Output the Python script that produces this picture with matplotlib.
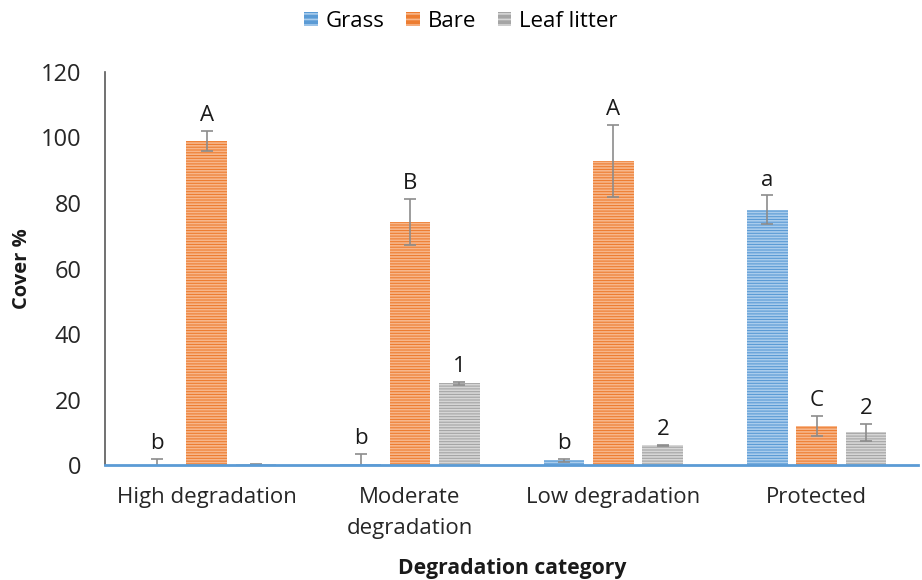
import numpy as np
import matplotlib.pyplot as plt
from matplotlib.patches import Patch

plt.rcParams['font.family'] = ['Open Sans', 'DejaVu Sans']
plt.rcParams['hatch.linewidth'] = 1.2

categories = ['High degradation', 'Moderate\ndegradation', 'Low degradation', 'Protected']
series = ['Grass', 'Bare', 'Leaf litter']

grass = [0.0, 0.5, 1.5, 78.0]
bare = [99.0, 74.2, 92.8, 11.9]
leaf = [0.3, 25.0, 6.0, 10.0]

grass_err = [1.8, 3.0, 0.5, 4.3]
bare_err = [3.0, 7.0, 11.0, 3.0]
leaf_err = [0.2, 0.5, 0.3, 2.5]

grass_lbl = ['b', 'b', 'b', 'a']
bare_lbl = ['A', 'B', 'A', 'C']
leaf_lbl = ['', '1', '2', '2']

face = ['#5B9BD5', '#ED7D31', '#A5A5A5']
hatchc = ['#A9CCEC', '#F7B68A', '#D6D6D6']

fig = plt.figure(figsize=(9.22, 5.8), dpi=100)
ax = fig.add_axes([0.114, 0.198, 0.882, 0.678])

x = np.arange(len(categories))
width = 0.2
step = 0.243
data = [grass, bare, leaf]
errs = [grass_err, bare_err, leaf_err]
lbls = [grass_lbl, bare_lbl, leaf_lbl]

for i in range(3):
    pos = x + (i - 1) * step
    ax.bar(pos, data[i], width, color=face[i], edgecolor=hatchc[i], linewidth=0,
           hatch='------', zorder=2)
    ax.errorbar(pos, data[i], yerr=errs[i], fmt='none', ecolor='#8C8C8C',
                elinewidth=1.2, capsize=4, capthick=1.2, zorder=3)
    for p, v, e, t in zip(pos, data[i], errs[i], lbls[i]):
        if t:
            ax.text(p, v + e + 1.5, t, ha='center', va='bottom', fontsize=16, color='#1a1a1a')

ax.set_xlim(-0.5, 3.5)
ax.set_ylim(0, 120)
ax.set_yticks(range(0, 121, 20))
ax.set_xticks(x)
ax.set_xticklabels(categories, fontsize=16, color='#262626', linespacing=1.6)
ax.tick_params(axis='y', labelsize=17, labelcolor='#262626', length=0, pad=17)
ax.tick_params(axis='x', length=0, pad=16)

for s in ['top', 'right']:
    ax.spines[s].set_visible(False)
ax.spines['left'].set_color('#595959')
ax.spines['left'].set_linewidth(1.2)
ax.spines['bottom'].set_color('#5B9BD5')
ax.spines['bottom'].set_linewidth(2)
ax.spines['bottom'].set_zorder(4)

ax.set_ylabel('Cover %', fontsize=14.5, fontweight='bold', color='#1a1a1a')
ax.yaxis.set_label_coords(-0.102, 0.5)
ax.yaxis.label.set_va('center')
ax.set_xlabel('Degradation category', fontsize=15.2, fontweight='bold', color='#1a1a1a')
ax.xaxis.set_label_coords(0.5, -0.262)
ax.xaxis.label.set_va('center')

handles = [Patch(facecolor=face[i], edgecolor=hatchc[i], hatch='---', linewidth=0) for i in range(3)]
fig.legend(handles, series, loc='center', bbox_to_anchor=(0.5, 0.963), ncol=3,
           frameon=False, fontsize=16, handlelength=0.6, handleheight=0.6,
           handletextpad=0.35, columnspacing=1.0)

fig.savefig('out.png', dpi=100)
